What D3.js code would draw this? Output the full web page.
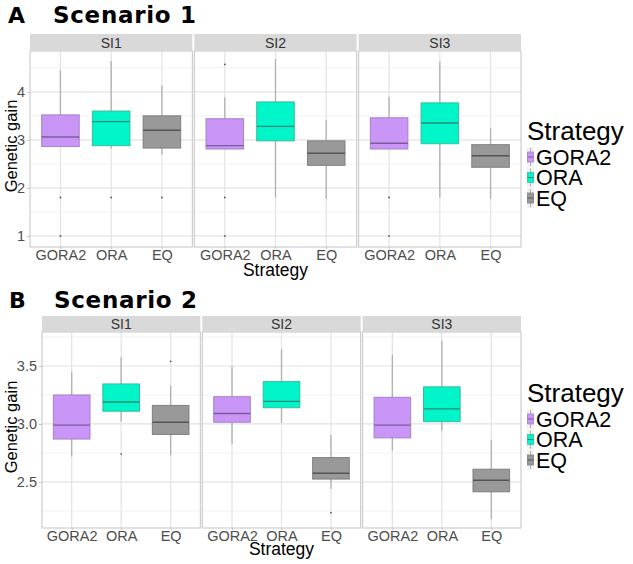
<!DOCTYPE html>
<html>
<head>
<meta charset="utf-8">
<script src="https://cdn.jsdelivr.net/npm/d3@7"></script>
<style>
  body { margin: 0; background: #fff; }
  svg { display: block; }
</style>
</head>
<body>
<svg width="633" height="564"></svg>
<script>
// categories
var strategies = ["GORA2", "ORA", "EQ"];
var indexes = ["SI1", "SI2", "SI3"];

// box stats per strategy: [lower whisker, q1, median, q3, upper whisker]
var s1SI1 = [[2.85, 2.86, 3.06, 3.52, 4.45], [2.82, 2.88, 3.38, 3.60, 4.64], [2.70, 2.83, 3.20, 3.50, 4.13]];
var s1SI2 = [[2.80, 2.81, 2.88, 3.44, 3.88], [1.80, 2.98, 3.28, 3.79, 4.68], [1.77, 2.47, 2.72, 2.98, 3.42]];
var s1SI3 = [[2.80, 2.81, 2.93, 3.46, 3.90], [1.80, 2.92, 3.35, 3.77, 4.63], [1.77, 2.43, 2.67, 2.90, 3.25]];
var s1Out = [[[1.8, 1.0], [1.8], [1.8]], [[4.57, 1.8, 1.0], [], []], [[1.8, 1.0], [], []]];

var s2SI1 = [[2.72, 2.87, 2.99, 3.25, 3.45], [3.02, 3.11, 3.19, 3.345, 3.575], [2.73, 2.91, 3.015, 3.16, 3.33]];
var s2SI2 = [[2.825, 3.015, 3.09, 3.235, 3.50], [3.01, 3.14, 3.195, 3.365, 3.645], [2.44, 2.525, 2.575, 2.71, 2.905]];
var s2SI3 = [[2.77, 2.88, 2.99, 3.23, 3.595], [2.94, 3.02, 3.13, 3.32, 3.72], [2.18, 2.415, 2.515, 2.61, 2.86]];
var s2Out = [[[], [2.74], [3.54]], [[], [], [2.235]], [[], [], []]];

// axis ticks
var s1Ticks = [1, 2, 3, 4];
var s1Minor = [1.5, 2.5, 3.5, 4.5];
var s2Ticks = [2.5, 3.0, 3.5];
var s2Minor = [2.25, 2.75, 3.25, 3.75];

var fills = ["#c996f8", "#00f5c8", "#999999"];
var strokes = ["#a582c4", "#36bd9e", "#7f7f7f"];
var medians = ["#7b5c97", "#2b8c75", "#555555"];

var svg = d3.select("svg");
var font = "'Liberation Sans', Arial, sans-serif";
var boldFont = "'DejaVu Sans', Verdana, sans-serif";

function drawScenario(cfg) {
  var g = svg.append("g");

  // panel title
  g.append("text").attr("x", cfg.titleX).attr("y", cfg.titleY)
    .attr("font-family", boldFont).attr("font-weight", "bold")
    .attr("font-size", 22).text(cfg.letter);
  g.append("text").attr("x", cfg.titleX + 45).attr("y", cfg.titleY)
    .attr("font-family", boldFont).attr("font-weight", "bold")
    .attr("font-size", 23).attr("textLength", 143).attr("lengthAdjust", "spacing")
    .text(cfg.title);

  var gap = 2;
  var pw = (cfg.right - cfg.left - 2 * gap) / 3;
  var y = d3.scaleLinear().domain(cfg.domain).range([cfg.bottom, cfg.top]);

  indexes.forEach(function(si, p) {
    var x0 = cfg.left + p * (pw + gap);
    var x = d3.scalePoint().domain(strategies).range([x0, x0 + pw]).padding(0.6);
    var step = x.step();
    var bw = step * 0.74;
    var pg = g.append("g");

    pg.append("rect").attr("x", x0).attr("y", cfg.top).attr("width", pw)
      .attr("height", cfg.bottom - cfg.top).attr("fill", "#fff");

    // grid
    pg.selectAll(".minor").data(cfg.minor.filter(function(v) {
      return v > cfg.domain[0] && v < cfg.domain[1];
    })).enter().append("line")
      .attr("x1", x0).attr("x2", x0 + pw)
      .attr("y1", function(d) { return y(d); }).attr("y2", function(d) { return y(d); })
      .attr("stroke", "#f2f2f2").attr("stroke-width", 1);
    pg.selectAll(".major").data(cfg.ticks).enter().append("line")
      .attr("x1", x0).attr("x2", x0 + pw)
      .attr("y1", function(d) { return y(d); }).attr("y2", function(d) { return y(d); })
      .attr("stroke", "#e3e3e3").attr("stroke-width", 1.2);
    pg.selectAll(".vgrid").data(strategies).enter().append("line")
      .attr("x1", function(d) { return x(d); }).attr("x2", function(d) { return x(d); })
      .attr("y1", cfg.top).attr("y2", cfg.bottom)
      .attr("stroke", "#e3e3e3").attr("stroke-width", 1.2);

    var stats = cfg.stats[p];
    strategies.forEach(function(s, k) {
      var st = stats[k];
      var cx = x(s);
      // whiskers
      pg.append("line").attr("x1", cx).attr("x2", cx)
        .attr("y1", y(st[3])).attr("y2", y(st[4]))
        .attr("stroke", "#b0b0b0").attr("stroke-width", 1.3);
      pg.append("line").attr("x1", cx).attr("x2", cx)
        .attr("y1", y(st[1])).attr("y2", y(st[0]))
        .attr("stroke", "#b0b0b0").attr("stroke-width", 1.3);
      // box
      pg.append("rect").attr("x", cx - bw / 2).attr("y", y(st[3]))
        .attr("width", bw).attr("height", y(st[1]) - y(st[3]))
        .attr("fill", fills[k]).attr("stroke", strokes[k]).attr("stroke-width", 1);
      pg.append("line").attr("x1", cx - bw / 2).attr("x2", cx + bw / 2)
        .attr("y1", y(st[2])).attr("y2", y(st[2]))
        .attr("stroke", medians[k]).attr("stroke-width", 1.4);
      // outliers
      pg.selectAll(".out" + k).data(cfg.outliers[p][k]).enter().append("circle")
        .attr("cx", cx).attr("cy", function(d) { return y(d); })
        .attr("r", 0.9).attr("fill", "#555");
    });

    // panel border
    pg.append("rect").attr("x", x0).attr("y", cfg.top).attr("width", pw)
      .attr("height", cfg.bottom - cfg.top).attr("fill", "none")
      .attr("stroke", "#c4c4c4").attr("stroke-width", 1);

    // strip
    pg.append("rect").attr("x", x0).attr("y", cfg.stripTop).attr("width", pw)
      .attr("height", cfg.top - cfg.stripTop).attr("fill", "#d9d9d9");
    pg.append("text").attr("x", x0 + pw / 2).attr("y", cfg.stripTop + (cfg.top - cfg.stripTop) / 2 + 5)
      .attr("text-anchor", "middle").attr("font-family", font).attr("font-size", 14)
      .attr("fill", "#333").text(si);

    // x axis
    var xa = pg.append("g").attr("transform", "translate(0," + cfg.bottom + ")")
      .call(d3.axisBottom(x).tickSize(2).tickPadding(1));
    xa.select(".domain").remove();
    xa.selectAll("line").attr("stroke", "#c4c4c4");
    xa.selectAll("text").attr("font-family", font).attr("font-size", 14.5).attr("fill", "#4d4d4d");
  });

  // y axis
  var ya = g.append("g").attr("transform", "translate(" + cfg.left + ",0)")
    .call(d3.axisLeft(y).tickValues(cfg.ticks).tickFormat(cfg.fmt).tickSize(3).tickPadding(2));
  ya.select(".domain").remove();
  ya.selectAll("line").attr("stroke", "#c4c4c4");
  ya.selectAll("text").attr("font-family", font).attr("font-size", 14.5).attr("fill", "#4d4d4d");

  // axis titles
  g.append("text").attr("x", (cfg.left + cfg.right) / 2).attr("y", cfg.bottom + cfg.xTitleOffset)
    .attr("text-anchor", "middle").attr("font-family", font).attr("font-size", 17.5)
    .text("Strategy");
  g.append("text")
    .attr("transform", "translate(17," + ((cfg.top + cfg.bottom) / 2 - 3) + ") rotate(-90)")
    .attr("text-anchor", "middle").attr("font-family", font).attr("font-size", 16.5)
    .text("Genetic gain");

  // legend
  var lx = 527;
  g.append("text").attr("x", lx).attr("y", cfg.legendY).attr("font-family", font)
    .attr("font-size", 26).text("Strategy");
  strategies.forEach(function(s, k) {
    var cy = cfg.legendY + 17 + k * 20.5;
    g.append("rect").attr("x", lx).attr("y", cy - 10).attr("width", 7).attr("height", 20)
      .attr("fill", "#f2f2f2");
    g.append("line").attr("x1", lx + 3.5).attr("x2", lx + 3.5).attr("y1", cy - 9).attr("y2", cy + 9)
      .attr("stroke", "#b0b0b0").attr("stroke-width", 1);
    g.append("rect").attr("x", lx + 0.5).attr("y", cy - 5).attr("width", 6).attr("height", 10)
      .attr("fill", fills[k]).attr("stroke", strokes[k]).attr("stroke-width", 0.8);
    g.append("line").attr("x1", lx + 0.5).attr("x2", lx + 6.5).attr("y1", cy).attr("y2", cy)
      .attr("stroke", medians[k]).attr("stroke-width", 1);
    g.append("text").attr("x", lx + 9).attr("y", cy + 7.5).attr("font-family", font)
      .attr("font-size", 21.5).text(s);
  });
}

drawScenario({
  letter: "A", title: "Scenario 1", titleX: 8, titleY: 23,
  left: 30, right: 521, stripTop: 34, top: 51, bottom: 247, xTitleOffset: 29,
  domain: [0.77, 4.85], ticks: s1Ticks, minor: s1Minor, fmt: d3.format("d"),
  stats: [s1SI1, s1SI2, s1SI3], outliers: s1Out, legendY: 140
});

drawScenario({
  letter: "B", title: "Scenario 2", titleX: 9, titleY: 308,
  left: 42, right: 521, stripTop: 316, top: 332, bottom: 528, xTitleOffset: 27,
  domain: [2.103, 3.793], ticks: s2Ticks, minor: s2Minor, fmt: d3.format(".1f"),
  stats: [s2SI1, s2SI2, s2SI3], outliers: s2Out, legendY: 402
});
</script>
</body>
</html>
